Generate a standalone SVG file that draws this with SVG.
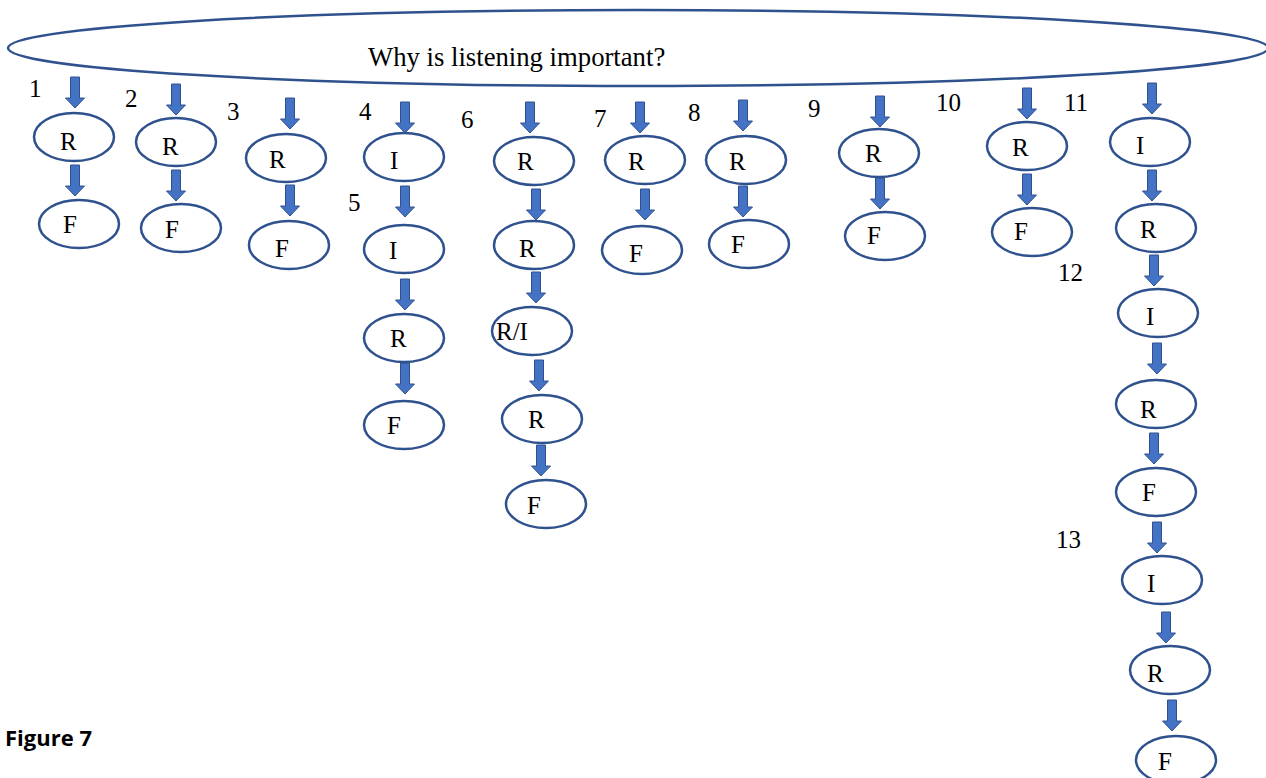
<svg xmlns="http://www.w3.org/2000/svg" xmlns:xlink="http://www.w3.org/1999/xlink" width="1266" height="778" viewBox="0 0 1266 778">
<style>
.n ellipse{fill:#fff;stroke:#2F528F;stroke-width:2.5}
.t{font-family:"Liberation Serif","Times New Roman",serif;font-size:25px;fill:#000}
.title{font-size:26.7px}
.num{font-family:"Liberation Serif","Times New Roman",serif;font-size:25px;fill:#000}
.arr{fill:#4472C4;stroke:#2F528F;stroke-width:1}
.fig{font-family:"Open Sans","Noto Sans",sans-serif;font-weight:bold;font-size:22px;fill:#000}
</style>
<defs>
<path id="a" d="M-4.5,0 H4.5 V21 H9.5 L0,31 L-9.5,21 H-4.5 Z"/>
</defs>
<rect width="1266" height="778" fill="#fff"/>
<g id="title" class="n">
<ellipse cx="638" cy="48" rx="630" ry="38"/>
<text class="t title" x="368" y="66">Why is listening important?</text>
</g>
<g id="connectors" class="arr">
<use xlink:href="#a" x="75" y="77"/>
<use xlink:href="#a" x="75" y="165"/>
<use xlink:href="#a" x="176" y="84"/>
<use xlink:href="#a" x="176" y="170"/>
<use xlink:href="#a" x="290" y="98"/>
<use xlink:href="#a" x="290" y="185"/>
<use xlink:href="#a" x="405" y="102"/>
<use xlink:href="#a" x="405" y="186"/>
<use xlink:href="#a" x="405" y="279"/>
<use xlink:href="#a" x="405" y="363"/>
<use xlink:href="#a" x="530" y="102"/>
<use xlink:href="#a" x="536" y="189"/>
<use xlink:href="#a" x="536" y="272"/>
<use xlink:href="#a" x="539" y="360"/>
<use xlink:href="#a" x="541" y="445"/>
<use xlink:href="#a" x="640" y="102"/>
<use xlink:href="#a" x="645" y="189"/>
<use xlink:href="#a" x="743" y="100"/>
<use xlink:href="#a" x="743" y="186"/>
<use xlink:href="#a" x="880" y="96"/>
<use xlink:href="#a" x="880" y="178"/>
<use xlink:href="#a" x="1027" y="88"/>
<use xlink:href="#a" x="1027" y="174"/>
<use xlink:href="#a" x="1152" y="83"/>
<use xlink:href="#a" x="1152" y="170"/>
<use xlink:href="#a" x="1154" y="255"/>
<use xlink:href="#a" x="1157" y="343"/>
<use xlink:href="#a" x="1154" y="433"/>
<use xlink:href="#a" x="1157" y="522"/>
<use xlink:href="#a" x="1166" y="612"/>
<use xlink:href="#a" x="1172" y="700"/>
</g>
<g id="labels">
<text class="num" x="29" y="97">1</text>
<text class="num" x="125" y="107">2</text>
<text class="num" x="227" y="120">3</text>
<text class="num" x="359" y="120">4</text>
<text class="num" x="348" y="211">5</text>
<text class="num" x="461" y="128">6</text>
<text class="num" x="594" y="127">7</text>
<text class="num" x="688" y="121">8</text>
<text class="num" x="808" y="117">9</text>
<text class="num" x="936" y="111">10</text>
<text class="num" x="1064" y="111">11</text>
<text class="num" x="1058" y="281">12</text>
<text class="num" x="1056" y="548">13</text>
</g>
<g id="n1r" class="n"><ellipse cx="74" cy="137" rx="40" ry="24"/><text class="t" x="60" y="150">R</text></g>
<g id="n1f" class="n"><ellipse cx="79" cy="224" rx="40" ry="24"/><text class="t" x="63" y="233">F</text></g>
<g id="n2r" class="n"><ellipse cx="176" cy="142" rx="40" ry="24"/><text class="t" x="162" y="155">R</text></g>
<g id="n2f" class="n"><ellipse cx="181" cy="228" rx="40" ry="24"/><text class="t" x="165" y="238">F</text></g>
<g id="n3r" class="n"><ellipse cx="286" cy="158" rx="40" ry="24"/><text class="t" x="269" y="168">R</text></g>
<g id="n3f" class="n"><ellipse cx="289" cy="245" rx="40" ry="24"/><text class="t" x="275" y="257">F</text></g>
<g id="n4i" class="n"><ellipse cx="404" cy="157" rx="40" ry="24"/><text class="t" x="390" y="169">I</text></g>
<g id="n5i" class="n"><ellipse cx="404" cy="249" rx="40" ry="24"/><text class="t" x="389" y="259">I</text></g>
<g id="n5r" class="n"><ellipse cx="404" cy="338" rx="40" ry="24"/><text class="t" x="390" y="347">R</text></g>
<g id="n5f" class="n"><ellipse cx="404" cy="425" rx="40" ry="24"/><text class="t" x="387" y="434">F</text></g>
<g id="n6r1" class="n"><ellipse cx="534" cy="161" rx="40" ry="24"/><text class="t" x="517" y="170">R</text></g>
<g id="n6r2" class="n"><ellipse cx="534" cy="245" rx="40" ry="24"/><text class="t" x="519" y="257">R</text></g>
<g id="n6ri" class="n"><ellipse cx="532" cy="331" rx="40" ry="24"/><text class="t" x="496" y="340">R/I</text></g>
<g id="n6r3" class="n"><ellipse cx="542" cy="419" rx="40" ry="24"/><text class="t" x="528" y="428">R</text></g>
<g id="n6f" class="n"><ellipse cx="546" cy="504" rx="40" ry="24"/><text class="t" x="527" y="514">F</text></g>
<g id="n7r" class="n"><ellipse cx="645" cy="160" rx="40" ry="24"/><text class="t" x="628" y="170">R</text></g>
<g id="n7f" class="n"><ellipse cx="642" cy="250" rx="40" ry="24"/><text class="t" x="629" y="262">F</text></g>
<g id="n8r" class="n"><ellipse cx="746" cy="160" rx="40" ry="24"/><text class="t" x="729" y="170">R</text></g>
<g id="n8f" class="n"><ellipse cx="749" cy="244" rx="40" ry="24"/><text class="t" x="731" y="253">F</text></g>
<g id="n9r" class="n"><ellipse cx="879" cy="153" rx="40" ry="24"/><text class="t" x="865" y="162">R</text></g>
<g id="n9f" class="n"><ellipse cx="885" cy="236" rx="40" ry="24"/><text class="t" x="867" y="244">F</text></g>
<g id="n10r" class="n"><ellipse cx="1027" cy="146" rx="40" ry="24"/><text class="t" x="1012" y="156">R</text></g>
<g id="n10f" class="n"><ellipse cx="1032" cy="232" rx="40" ry="24"/><text class="t" x="1014" y="240">F</text></g>
<g id="n11i" class="n"><ellipse cx="1150" cy="142" rx="40" ry="24"/><text class="t" x="1136" y="154">I</text></g>
<g id="n11r" class="n"><ellipse cx="1156" cy="228" rx="40" ry="24"/><text class="t" x="1140" y="238">R</text></g>
<g id="n12i" class="n"><ellipse cx="1158" cy="313" rx="40" ry="24"/><text class="t" x="1146" y="325">I</text></g>
<g id="n12r" class="n"><ellipse cx="1156" cy="404" rx="40" ry="24"/><text class="t" x="1140" y="418">R</text></g>
<g id="n12f" class="n"><ellipse cx="1156" cy="492" rx="40" ry="24"/><text class="t" x="1142" y="501">F</text></g>
<g id="n13i" class="n"><ellipse cx="1162" cy="580" rx="40" ry="24"/><text class="t" x="1147" y="592">I</text></g>
<g id="n13r" class="n"><ellipse cx="1170" cy="670" rx="40" ry="24"/><text class="t" x="1147" y="682">R</text></g>
<g id="n13f" class="n"><ellipse cx="1176" cy="760" rx="40" ry="24"/><text class="t" x="1158" y="770">F</text></g>
<text class="fig" x="5" y="746">Figure 7</text>
</svg>
